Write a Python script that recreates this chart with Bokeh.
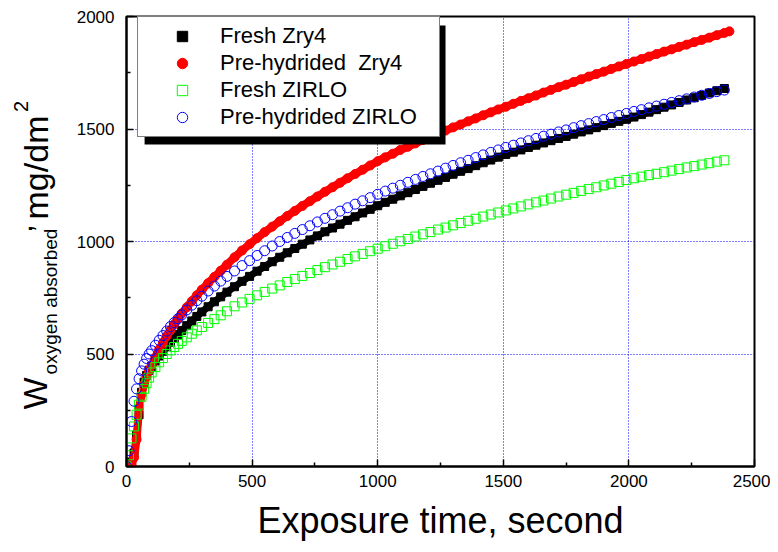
import math
from bokeh.plotting import figure
from bokeh.layouts import row
from bokeh.models import (Range1d, FixedTicker, Legend, LegendItem, Label,
                          BoxAnnotation)
from bokeh.embed import file_html
from bokeh.resources import INLINE

# ---------------- data ----------------
times = [0, 10, 20, 30, 40, 50, 60, 70, 80, 90, 100, 115, 130, 145, 160, 175,
         190, 205, 220, 240, 260, 280, 300, 325, 350, 375,
         400, 430, 460, 490, 520, 550, 580, 610, 640, 670, 700, 730, 760, 790,
         820, 850, 880, 910, 940, 970, 1000, 1030, 1060, 1090, 1120, 1150,
         1180, 1210, 1240, 1270, 1300, 1330, 1360, 1390, 1420, 1450, 1480,
         1510, 1540, 1570, 1600, 1630, 1660, 1690, 1720, 1750, 1780, 1810,
         1840, 1870, 1900, 1930, 1960, 1990, 2020, 2050, 2080, 2110, 2140,
         2170, 2200, 2230, 2260, 2290, 2320, 2350, 2380]

fresh_zry4 = [0, 5, 20, 60, 140, 230, 330, 375, 405, 428, 445, 469, 491, 512,
              532, 552, 570, 587, 604, 626, 647, 667, 687, 710, 732, 754,
              775, 799, 823, 845, 868, 889, 910, 930, 950, 969,
              988, 1007, 1025, 1043, 1060, 1077, 1094, 1110, 1127, 1143,
              1159, 1174, 1188, 1203, 1217, 1231, 1245, 1259, 1272, 1285,
              1299, 1312, 1324, 1337, 1350, 1362, 1375, 1387, 1397, 1407,
              1418, 1428, 1438, 1448, 1458, 1467, 1477, 1487, 1496, 1506,
              1515, 1525, 1534, 1543, 1553, 1564, 1575, 1586, 1597, 1607,
              1618, 1629, 1639, 1649, 1660, 1670, 1680]

pre_zry4_times = times + [2400]
pre_zry4 = [0, 2, 10, 40, 120, 260, 320, 365, 400, 428, 450, 485, 520, 550,
            580, 606, 632, 656, 680, 708, 735, 761, 786, 815, 843, 870,
            897, 930, 960, 988, 1015, 1042, 1066, 1090, 1113, 1136,
            1158, 1179, 1200, 1221, 1241, 1261, 1281, 1300, 1319, 1338,
            1357, 1374, 1390, 1407, 1421, 1436, 1451, 1465, 1479, 1493,
            1507, 1520, 1534, 1547, 1561, 1574, 1587, 1599, 1612, 1625,
            1637, 1649, 1662, 1674, 1686, 1697, 1709, 1721, 1733, 1744,
            1755, 1767, 1778, 1789, 1800, 1811, 1822, 1833, 1844, 1854,
            1865, 1875, 1886, 1896, 1906, 1917, 1927, 1934]

fresh_zirlo = [0, 50, 125, 178, 230, 275, 310, 345, 370, 395, 418, 442, 463,
               482, 500, 516, 531, 545, 558, 574, 590, 605, 620, 638, 655, 672,
               690, 712, 729, 745, 761, 776, 791, 805, 820, 833,
               847, 860, 873, 886, 898, 910, 922, 934, 945, 957,
               968, 979, 990, 1001, 1011, 1022, 1032, 1042, 1053, 1062,
               1072, 1082, 1092, 1101, 1111, 1120, 1129, 1138, 1147, 1156,
               1165, 1174, 1182, 1191, 1200, 1208, 1216, 1225, 1233, 1241,
               1249, 1257, 1265, 1273, 1281, 1288, 1295, 1301, 1308, 1315,
               1322, 1329, 1335, 1342, 1348, 1355, 1361]

pre_zirlo = [0, 70, 200, 290, 345, 390, 425, 455, 480, 500, 515, 539, 561,
             582, 602, 622, 640, 657, 674, 696, 717, 737, 757, 780, 802, 824,
             845, 869, 893, 915, 938, 959, 980, 1000, 1018, 1036,
             1053, 1070, 1087, 1103, 1119, 1135, 1150, 1166, 1181, 1195,
             1210, 1224, 1237, 1250, 1263, 1276, 1289, 1301, 1313, 1326,
             1338, 1350, 1361, 1373, 1385, 1396, 1407, 1418, 1428, 1438,
             1448, 1458, 1468, 1477, 1487, 1496, 1506, 1515, 1524, 1533,
             1542, 1551, 1560, 1569, 1578, 1586, 1594, 1602, 1610, 1618,
             1626, 1634, 1642, 1650, 1658, 1666, 1673]

series_names = ["Fresh Zry4", "Pre-hydrided  Zry4", "Fresh ZIRLO",
                "Pre-hydrided ZIRLO"]
x_ticks = [0, 500, 1000, 1500, 2000, 2500]
x_minor = [250, 750, 1250, 1750, 2250]
y_ticks = [0, 500, 1000, 1500, 2000]
y_minor = [250, 750, 1250, 1750]
grid_x = [500, 1000, 1500, 2000]
grid_y = [500, 1000, 1500]

FONT = "Liberation Sans"
H = 552          # canvas height of both figures
LAB_W = 70       # width of the strip that holds the y title

# ---------------- main plot ----------------
p = figure(frame_width=628, frame_height=450, title=None, align="start",
           min_border_left=126 - LAB_W, min_border_right=16,
           min_border_top=16, min_border_bottom=H - 16 - 450,
           x_range=Range1d(0, 2500), y_range=Range1d(0, 2000),
           output_backend="svg", toolbar_location=None)
p.background_fill_color = "white"
p.border_fill_color = "white"
p.outline_line_color = "black"
p.outline_line_width = 2

p.xaxis.ticker = FixedTicker(ticks=x_ticks, minor_ticks=x_minor)
p.yaxis.ticker = FixedTicker(ticks=y_ticks, minor_ticks=y_minor)
for ax in (p.xaxis[0], p.yaxis[0]):
    ax.axis_line_width = 2
    ax.axis_line_color = "black"
    ax.major_tick_in = 7
    ax.major_tick_out = 0
    ax.minor_tick_in = 4
    ax.minor_tick_out = 0
    ax.major_tick_line_width = 1.5
    ax.minor_tick_line_width = 1.5
    ax.major_tick_line_color = "black"
    ax.minor_tick_line_color = "black"
    ax.major_label_text_font = FONT
    ax.major_label_text_font_size = "17px"
    ax.major_label_text_color = "black"
p.yaxis.major_label_standoff = 12
p.xaxis.major_label_standoff = 8

p.xaxis.axis_label = "Exposure time, second"
p.xaxis.axis_label_text_font = FONT
p.xaxis.axis_label_text_font_size = "36px"
p.xaxis.axis_label_text_font_style = "normal"
p.xaxis.axis_label_text_color = "black"
p.xaxis.axis_label_standoff = 10

p.xgrid.ticker = FixedTicker(ticks=grid_x)
p.ygrid.ticker = FixedTicker(ticks=grid_y)
for g in (p.xgrid[0], p.ygrid[0]):
    g.grid_line_color = "#0000ff"
    g.grid_line_dash = "1 2"
    g.grid_line_width = 1

# dense marker bands (lines under the filled markers make them continuous)
p.line(times, fresh_zry4, line_color="black", line_width=7)
r_black = p.scatter(times, fresh_zry4, marker="square", size=8,
                    fill_color="black", line_color="black")
p.line(pre_zry4_times, pre_zry4, line_color="#ff0000", line_width=8)
r_red = p.scatter(pre_zry4_times, pre_zry4, marker="circle", size=9,
                  fill_color="#ff0000", line_color="#ff0000")
r_green = p.scatter(times, fresh_zirlo, marker="square", size=9,
                    fill_color=None, line_color="#00ff00", line_width=1)
r_blue = p.scatter(times, pre_zirlo, marker="circle", size=10,
                   fill_color=None, line_color="#0000ff", line_width=1)

# legend shadow
shadow = BoxAnnotation(left=72, right=1270, bottom=1431, top=1960,
                       fill_color="black", fill_alpha=1.0, line_color=None)
p.add_layout(shadow)

legend = Legend(items=[LegendItem(label=series_names[0], renderers=[r_black]),
                       LegendItem(label=series_names[1], renderers=[r_red]),
                       LegendItem(label=series_names[2], renderers=[r_green]),
                       LegendItem(label=series_names[3], renderers=[r_blue])],
                location=(11, 329))
legend.label_text_font = FONT
legend.label_text_font_size = "22px"
legend.label_text_color = "black"
legend.glyph_width = 76
legend.glyph_height = 26
legend.label_height = 26
legend.label_width = 213
legend.label_standoff = 0
legend.padding = 6
legend.spacing = 1
legend.margin = 0
legend.border_line_color = "black"
legend.border_line_width = 1
legend.background_fill_color = "white"
legend.background_fill_alpha = 1.0
p.add_layout(legend)

# ---------------- strip holding the rotated y title ----------------
t = figure(frame_width=LAB_W, frame_height=H, title=None, align="start",
           min_border_left=0, min_border_right=0,
           min_border_top=0, min_border_bottom=0,
           x_range=Range1d(0, LAB_W), y_range=Range1d(0, H),
           x_axis_type=None, y_axis_type=None,
           output_backend="svg", toolbar_location=None)
t.outline_line_color = None
t.background_fill_color = "white"
t.border_fill_color = "white"


def ylab(text, cx, cy, size):
    # (cx, cy): anchor of the rotated text in picture pixels
    t.add_layout(Label(x=cx, y=H - cy, text=text, angle=math.pi / 2,
                       text_font=FONT, text_font_size=size,
                       text_color="black", text_align="center",
                       text_baseline="middle"))


ylab("W", 34, 377, "34px")
ylab("oxygen absorbed", 50, 285, "19px")
ylab(",", 21, 212, "30px")
ylab("mg/dm", 35, 151, "34px")
ylab("2", 20, 90, "20px")

layout = row(t, p, spacing=0)
open("out.html", "w").write(file_html(layout, INLINE))
